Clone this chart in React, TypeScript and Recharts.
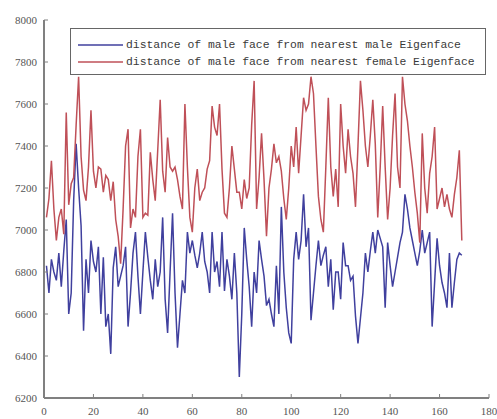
import { LineChart, Line, XAxis, YAxis } from "recharts";

// distance of male face from nearest male Eigenface (blue), samples 1..169
const maleDist = [
    6830, 6700, 6860, 6800, 6760, 6890, 6730, 6900, 7050, 6600,
    6700, 7140, 7410, 7200, 7020, 6520, 6860, 6700, 6950, 6850,
    6800, 6920, 6600, 6870, 6540, 6600, 6410, 6820, 6920, 6730,
    6780, 6830, 6920, 6540, 6700, 6890, 6990, 6780, 6600, 6800,
    6990, 6870, 6760, 6670, 6860, 6730, 6800, 7060, 6670, 6510,
    6800, 7080, 6700, 6440, 6600, 6760, 6700, 6990, 6890, 6950,
    6880, 6820, 6890, 6990, 6850, 6800, 6700, 6990, 6800, 6850,
    6730, 6990, 6710, 6860, 6780, 6670, 6890, 6700, 6300, 6600,
    7010, 6860, 6730, 6540, 6800, 6700, 6950, 6860, 6780, 6640,
    6670, 6600, 6540, 6830, 6600, 7110, 6800, 6630, 6510, 6460,
    6860, 6990, 6860, 6950, 7170, 6920, 7010, 6570, 6700, 6830,
    6950, 6830, 6880, 6920, 6730, 6860, 6620, 6800, 6800, 6670,
    6940, 6830, 6830, 6760, 6780, 6590, 6460, 6580, 6700, 6890,
    6800, 6900, 6990, 6890, 7000, 6960, 6920, 6630, 6940, 6830,
    6730, 6800, 6870, 6940, 6990, 7170, 7100, 7010, 6950, 6890,
    6830, 6900, 7000, 6890, 6940, 6990, 6540, 6750, 6960, 6830,
    6750, 6700, 6630, 6890, 6630, 6750, 6860, 6890, 6880,
];

// distance of male face from nearest female Eigenface (red)
const femaleDist = [
    7060, 7150, 7330, 7100, 6950, 7060, 7100, 6980, 7560, 7120,
    7220, 7250, 7500, 7730, 7350, 7190, 7140, 7300, 7570, 7280,
    7200, 7300, 7290, 7180, 7260, 7240, 7140, 7230, 7050, 6970,
    6840, 7100, 7400, 7480, 7010, 7100, 7060, 7350, 7480, 7060,
    7080, 7070, 7370, 7240, 7140, 7380, 7620, 7280, 7180, 7440,
    7300, 7280, 7300, 7240, 7160, 7100, 7600, 7300, 7060, 6990,
    7200, 7290, 7140, 7180, 7200, 7290, 7330, 7590, 7490, 7450,
    7600, 7290, 7080, 7060, 7200, 7400, 7290, 7180, 7180, 7100,
    7240, 7150, 7200, 7500, 7710, 7100, 7250, 7460, 7240, 6970,
    7200, 7290, 7410, 7320, 7350, 7280, 7150, 7050, 7200, 7400,
    7300, 7490, 7270, 7450, 7630, 7570, 7600, 7730, 7650, 7400,
    7160, 7050, 6990, 7300, 7630, 7300, 7160, 7290, 7110, 7600,
    7400, 7270, 7480, 7350, 7270, 7110, 7400, 7710, 7570, 7400,
    7300, 7450, 7620, 7410, 7060, 7300, 7590, 7300, 7050, 7200,
    7450, 7650, 7300, 7200, 7730, 7600, 7520, 7400, 7300, 7180,
    7080, 6940, 7460, 7200, 7080, 7270, 7350, 7490, 7100, 7150,
    7200, 7110, 7170, 7100, 7060, 7170, 7250, 7380, 6950,
];

const xTicks = [0, 20, 40, 60, 80, 100, 120, 140, 160, 180];
const yTicks = [6200, 6400, 6600, 6800, 7000, 7200, 7400, 7600, 7800, 8000];

const legendLabels = [
    "distance of male face from nearest male Eigenface",
    "distance of male face from nearest female Eigenface",
];

const BLUE = "#40409e";
const RED = "#bf5058";
const FRAME = "#808080";
const TICK_FONT = "'Liberation Serif', serif";

const data = maleDist.map((m, i) => ({ x: i + 1, male: m, female: femaleDist[i] }));

const BottomTick = ({ x, y, payload }: any) => (
    <g>
        <line x1={x} x2={x} y1={y} y2={y - 4} stroke={FRAME} />
        <text x={x} y={y + 17} textAnchor="middle" fontSize={11} fill="#555" fontFamily={TICK_FONT}>
            {payload.value}
        </text>
    </g>
);

const LeftTick = ({ x, y, payload }: any) => (
    <g>
        <line x1={x} x2={x + 4} y1={y} y2={y} stroke={FRAME} />
        <text x={x - 7} y={y + 4} textAnchor="end" fontSize={11} fill="#555" fontFamily={TICK_FONT}>
            {payload.value}
        </text>
    </g>
);

const TopTick = ({ x, y }: any) => <line x1={x} x2={x} y1={y} y2={y + 4} stroke={FRAME} />;
const RightTick = ({ x, y }: any) => <line x1={x} x2={x - 4} y1={y} y2={y} stroke={FRAME} />;

export default function App() {
    return (
        <div style={{ position: "absolute", left: 0, top: 0, width: 497, height: 419, background: "#fff" }}>
            <LineChart width={497} height={419} data={data} margin={{ top: 20, right: 8, left: 4, bottom: 0 }}>
                <XAxis
                    dataKey="x"
                    type="number"
                    domain={[0, 180]}
                    ticks={xTicks}
                    height={21}
                    tickSize={0}
                    tickMargin={0}
                    tick={<BottomTick />}
                    axisLine={{ stroke: FRAME, strokeWidth: 2 }}
                    tickLine={false}
                    interval={0}
                />
                <XAxis
                    xAxisId="top"
                    orientation="top"
                    type="number"
                    domain={[0, 180]}
                    ticks={xTicks}
                    height={0}
                    tickSize={0}
                    tickMargin={0}
                    tick={<TopTick />}
                    axisLine={{ stroke: FRAME, strokeWidth: 2 }}
                    tickLine={false}
                    interval={0}
                />
                <YAxis
                    type="number"
                    domain={[6200, 8000]}
                    ticks={yTicks}
                    width={40}
                    tickSize={0}
                    tickMargin={0}
                    tick={<LeftTick />}
                    axisLine={{ stroke: FRAME, strokeWidth: 2 }}
                    tickLine={false}
                    interval={0}
                />
                <YAxis
                    yAxisId="right"
                    orientation="right"
                    type="number"
                    domain={[6200, 8000]}
                    ticks={yTicks}
                    width={0}
                    tickSize={0}
                    tickMargin={0}
                    tick={<RightTick />}
                    axisLine={{ stroke: FRAME, strokeWidth: 2 }}
                    tickLine={false}
                    interval={0}
                />
                <Line dataKey="male" stroke={BLUE} strokeWidth={1.5} dot={false} isAnimationActive={false} />
                <Line dataKey="female" stroke={RED} strokeWidth={1.5} dot={false} isAnimationActive={false} />
            </LineChart>
            <div
                style={{
                    position: "absolute",
                    left: 70,
                    top: 28,
                    width: 416,
                    height: 47,
                    border: "1px solid #666",
                    background: "#fff",
                    boxSizing: "border-box",
                    fontFamily: "'Liberation Mono', monospace",
                    fontSize: 11.4,
                    color: "#3a3a3a",
                }}
            >
                {legendLabels.map((label, i) => (
                    <div key={label} style={{ position: "absolute", left: 7, top: 9 + i * 17, height: 14, display: "flex", alignItems: "center", whiteSpace: "nowrap" }}>
                        <svg width={46} height={14} style={{ marginRight: 2 }}>
                            <line x1={0} x2={45} y1={7} y2={7} stroke={i === 0 ? BLUE : RED} strokeWidth={1.5} />
                        </svg>
                        <span>{label}</span>
                    </div>
                ))}
            </div>
        </div>
    );
}
